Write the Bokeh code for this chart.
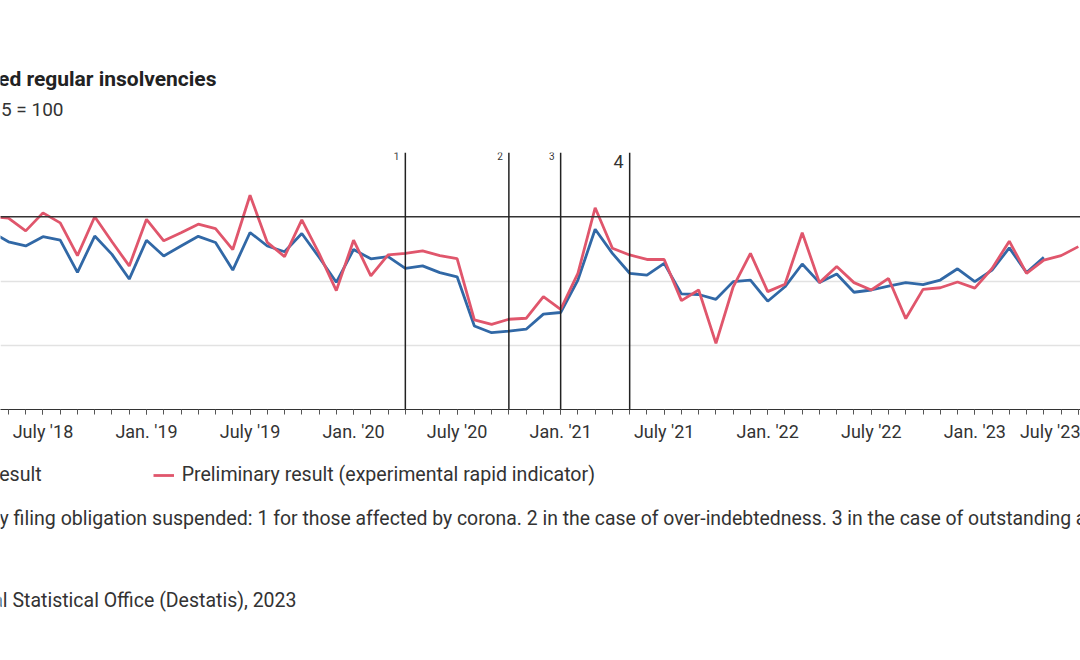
import pandas as pd
from bokeh.plotting import figure
from bokeh.layouts import column
from bokeh.models import (Range1d, FixedTicker, Span, Label, Legend, LegendItem, Grid)
from bokeh.embed import file_html
from bokeh.resources import INLINE

# ---------------- data ----------------
final_start, final_end = "2018-04", "2023-05"
final_values = [95.3, 92.2, 90.9, 93.8, 92.7, 82.7, 94.0, 88.3, 80.6, 92.7, 87.8, 90.9,
                93.9, 92.0, 83.4, 95.1, 90.9, 89.1, 94.8, 87.4, 79.6, 89.8, 86.9, 87.6,
                83.9, 84.7, 82.6, 81.3, 66.0, 63.9, 64.4, 65.0, 69.7, 70.2, 80.3, 96.1,
                88.6, 82.4, 81.8, 85.5, 76.0, 75.8, 74.3, 79.8, 80.3, 73.7, 78.2, 85.3,
                79.5, 82.2, 76.5, 77.2, 78.4, 79.5, 78.9, 80.3, 83.8, 79.8, 83.4, 90.3,
                82.6, 87.4]
prelim_start, prelim_end = "2018-04", "2023-07"
prelim_values = [100.0, 99.6, 95.6, 101.2, 98.1, 87.9, 100.0, 92.2, 84.7, 99.2, 92.5, 95.0,
                 97.7, 96.3, 89.8, 106.7, 92.0, 87.6, 99.0, 88.6, 77.0, 92.7, 81.6, 88.1,
                 88.6, 89.4, 87.9, 87.0, 67.9, 66.5, 68.1, 68.4, 75.1, 71.2, 82.4, 102.8,
                 90.2, 88.1, 86.7, 86.7, 73.9, 77.2, 60.6, 78.2, 88.6, 76.7, 79.0, 95.0,
                 79.5, 84.5, 79.5, 77.2, 80.8, 68.3, 77.4, 77.9, 79.7, 77.8, 83.9, 92.4,
                 82.4, 86.5, 87.9, 90.7]
tick_months = ["2018-07", "2019-01", "2019-07", "2020-01", "2020-07", "2021-01",
               "2021-07", "2022-01", "2022-07", "2023-01", "2023-07"]
tick_labels = ["July '18", "Jan. '19", "July '19", "Jan. '20", "July '20", "Jan. '21",
               "July '21", "Jan. '22", "July '22", "Jan. '23", "July '23"]
event_months = ["2020-04", "2020-10", "2021-01", "2021-05"]
event_labels = ["1", "2", "3", "4"]
y_grid_values = [60, 80, 120]
reference_level = 100

title = "Reported regular insolvencies"
subtitle = "2015 = 100"
legend_final = "Final result"
legend_prelim = "Preliminary result (experimental rapid indicator)"
note_a = "Insolvency filing obligation suspended:"
note_b = ("1 for those affected by corona. 2 in the case of over-indebtedness. "
          "3 in the case of outstanding aid payments.")
source = "Source: Federal Statistical Office (Destatis), 2023"


def month_index(p):
    p = pd.Period(p, freq="M")
    return (p.year - 2018) * 12 + p.month - 1


final_x = [month_index(p) for p in pd.period_range(final_start, final_end, freq="M")]
prelim_x = [month_index(p) for p in pd.period_range(prelim_start, prelim_end, freq="M")]
all_ticks = [month_index(p) for p in pd.period_range("2018-01", "2023-08", freq="M")]
major_ticks = [month_index(m) for m in tick_months]

BLUE = "#3168a6"
RED = "#e0566c"
TXT = "#333333"
FONT = "Roboto"
W = 1080


def text_panel(height):
    f = figure(width=W, height=height, x_range=Range1d(0, 1), y_range=Range1d(0, 1),
               x_axis_location=None, y_axis_location=None, toolbar_location=None,
               output_backend="svg", min_border=0, outline_line_color=None,
               background_fill_color="white", border_fill_color="white")
    f.grid.visible = False
    return f


def txt(f, text, x, y, size, align="left", bold=False):
    f.add_layout(Label(x=x, y=y, x_units="screen", y_units="screen", text=text,
                       text_align=align, text_baseline="alphabetic",
                       text_font=FONT, text_font_size=size,
                       text_font_style="bold" if bold else "normal",
                       text_color="#222222" if bold else TXT))


# ---------------- header ----------------
top = text_panel(150)
txt(top, title, 216, 72, "21px", align="right", bold=True)
txt(top, subtitle, 63, 41, "19px", align="right")

# ---------------- main chart ----------------
p = figure(frame_width=W, frame_height=257,
           x_range=Range1d(3.539, 66.126), y_range=Range1d(40, 120),
           y_axis_location=None, toolbar_location=None, output_backend="svg",
           min_border_left=0, min_border_right=0, min_border_top=2,
           min_border_bottom=46, outline_line_color=None,
           background_fill_color="white", border_fill_color="white")
p.grid.visible = False
p.add_layout(Grid(dimension=1, ticker=FixedTicker(ticks=y_grid_values),
                  grid_line_color="#e2e2e2", grid_line_width=1.5))

p.add_layout(Span(location=reference_level, dimension="width",
                  line_color="#333333", line_width=1.5))
for m, lab in zip(event_months, event_labels):
    xm = month_index(m)
    p.add_layout(Span(location=xm, dimension="height", line_color="#222222", line_width=1.5))
    big = lab == "4"
    p.add_layout(Label(x=xm, y=248 if big else 253.5, x_units="data", y_units="screen",
                       text=lab, text_align="right", text_baseline="alphabetic",
                       x_offset=-6, text_font=FONT,
                       text_font_size="18px" if big else "10px", text_color=TXT))

blue = p.line(final_x, final_values, line_color=BLUE, line_width=2.8)
red = p.line(prelim_x, prelim_values, line_color=RED, line_width=2.8)

ax = p.xaxis[0]
ax.ticker = FixedTicker(ticks=major_ticks, minor_ticks=all_ticks)
ax.major_label_overrides = {t: l for t, l in zip(major_ticks, tick_labels)}
ax.axis_line_color = "#333333"
ax.axis_line_width = 1.2
ax.major_tick_line_color = "#555555"
ax.minor_tick_line_color = "#555555"
ax.major_tick_out = 5
ax.major_tick_in = 0
ax.minor_tick_out = 5
ax.minor_tick_in = 0
ax.major_label_standoff = 6
ax.major_label_text_font = FONT
ax.major_label_text_font_size = "18px"
ax.major_label_text_color = TXT

# ---------------- footer: legend and notes ----------------
bottom = text_panel(200)
nan2 = [float("nan"), float("nan")]
leg_blue = bottom.line(x=nan2, y=nan2, line_color=BLUE, line_width=2.8)
leg_red = bottom.line(x=nan2, y=nan2, line_color=RED, line_width=2.8)
legend = Legend(items=[LegendItem(label=legend_final, renderers=[leg_blue]),
                       LegendItem(label=legend_prelim, renderers=[leg_red])],
                orientation="horizontal", location=(-83, 169),
                glyph_width=21, glyph_height=22, label_height=22,
                label_standoff=8, spacing=111, padding=0, margin=0,
                border_line_alpha=0, background_fill_alpha=0,
                label_text_font=FONT, label_text_font_size="19.6px",
                label_text_color=TXT)
bottom.add_layout(legend)
txt(bottom, note_a, 252, 137, "19.6px", align="right")
txt(bottom, note_b, 257, 137, "19.4px", align="left")
txt(bottom, source, 296, 55, "19.5px", align="right")

layout = column(top, p, bottom, spacing=0)
open("out.html", "w").write(file_html(layout, INLINE))
